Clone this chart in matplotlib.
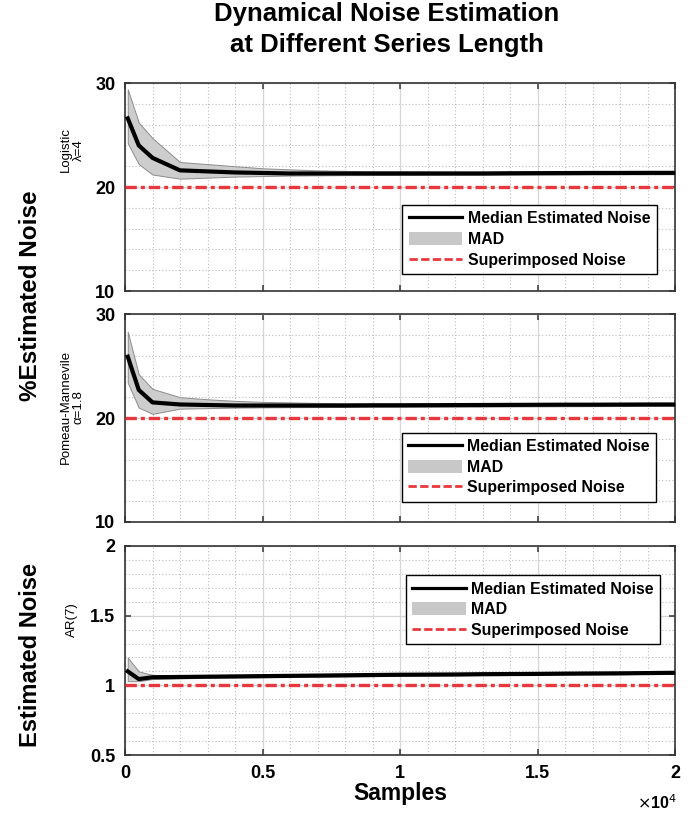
"""
Dynamical noise estimation vs. series length, three stacked panels
(Logistic, Pomeau-Manneville, AR(7)) in a MATLAB-like style.
"""

import matplotlib.pyplot as plt
from matplotlib.lines import Line2D
from matplotlib.patches import Patch
from matplotlib.ticker import MultipleLocator, FixedLocator

plt.rcParams["font.family"] = ["Liberation Sans", "DejaVu Sans"]

# series lengths (samples)
samples = [100, 500, 1000, 2000, 3000, 4000, 5000, 6000, 7000, 8000, 9000,
           10000, 11000, 12000, 13000, 14000, 15000, 16000, 17000, 18000,
           19000, 20000]

# Logistic map, lambda = 4 (% estimated noise)
logistic_median = [26.6, 24.0, 22.8, 21.6, 21.5, 21.4, 21.35, 21.3, 21.3, 21.3,
                   21.3, 21.3, 21.3, 21.3, 21.3, 21.32, 21.33, 21.34, 21.35,
                   21.35, 21.36, 21.36]
logistic_upper = [29.4, 26.2, 24.7, 22.4, 22.2, 22.0, 21.8, 21.7, 21.6, 21.55,
                  21.5, 21.5, 21.48, 21.47, 21.46, 21.47, 21.48, 21.49, 21.5,
                  21.5, 21.5, 21.5]
logistic_lower = [24.2, 22.2, 21.2, 20.8, 20.9, 21.0, 21.05, 21.1, 21.12, 21.14,
                  21.15, 21.16, 21.17, 21.18, 21.18, 21.19, 21.2, 21.2, 21.21,
                  21.22, 21.22, 21.23]
logistic_noise = 20

# Pomeau-Manneville map, alpha = 1.8 (% estimated noise)
pomeau_median = [25.9, 22.7, 21.5, 21.3, 21.25, 21.2, 21.2, 21.2, 21.2, 21.2,
                 21.22, 21.22, 21.23, 21.24, 21.25, 21.26, 21.27, 21.28, 21.28,
                 21.29, 21.3, 21.3]
pomeau_upper = [28.3, 24.2, 22.8, 22.0, 21.8, 21.65, 21.55, 21.5, 21.45, 21.42,
                21.4, 21.4, 21.4, 21.4, 21.4, 21.4, 21.4, 21.41, 21.41, 21.42,
                21.42, 21.42]
pomeau_lower = [23.4, 21.0, 20.4, 20.9, 20.95, 21.0, 21.02, 21.04, 21.05, 21.06,
                21.07, 21.08, 21.09, 21.1, 21.1, 21.11, 21.12, 21.13, 21.14,
                21.15, 21.16, 21.17]
pomeau_noise = 20

# AR(7) process (estimated noise)
ar_median = [1.10, 1.045, 1.058, 1.06, 1.062, 1.064, 1.066, 1.068, 1.07, 1.072,
             1.074, 1.076, 1.077, 1.078, 1.08, 1.081, 1.082, 1.084, 1.085,
             1.086, 1.088, 1.09]
ar_upper = [1.20, 1.10, 1.075, 1.07, 1.07, 1.072, 1.074, 1.076, 1.078, 1.08,
            1.082, 1.083, 1.084, 1.085, 1.087, 1.088, 1.089, 1.09, 1.092,
            1.093, 1.094, 1.095]
ar_lower = [1.03, 1.03, 1.045, 1.05, 1.054, 1.056, 1.058, 1.06, 1.062, 1.064,
            1.066, 1.068, 1.07, 1.071, 1.073, 1.074, 1.076, 1.077, 1.079, 1.08,
            1.082, 1.084]
ar_noise = 1

x_ticks = [0, 5000, 10000, 15000, 20000]
x_tick_labels = ["0", "0.5", "1", "1.5", "2"]
legend_labels = ["Median Estimated Noise", "MAD", "Superimposed Noise"]

RED = "#e8383d"
W, H = 693, 813


def px_box(left, top, right, bottom):
    """Pixel box -> figure fraction [l, b, w, h]."""
    return [left / W, 1 - bottom / H, (right - left) / W, (bottom - top) / H]


def draw_panel(ax, median, upper, lower, noise, ylim, yticks, yminor,
               yticklabels, legend_loc, legend_anchor):
    # MAD band
    ax.fill_between(samples, lower, upper, facecolor="#cdcdcd",
                    edgecolor="#8c8c8c", linewidth=0.7, zorder=2)
    # median line
    ax.plot(samples, median, color="black", linewidth=3.0, zorder=3)
    # superimposed noise level
    ax.axhline(noise, color=RED, linewidth=2.4,
               dashes=(3.4, 1.2, 1.2, 1.2), zorder=4)

    ax.set_xlim(0, 20000)
    ax.set_ylim(*ylim)
    ax.set_xticks(x_ticks)
    ax.xaxis.set_minor_locator(MultipleLocator(1000))
    ax.set_yticks(yticks)
    ax.set_yticklabels(yticklabels)
    ax.yaxis.set_minor_locator(FixedLocator(yminor))

    # MATLAB-ish grid: solid light major, dotted minor
    ax.set_axisbelow(True)
    ax.grid(True, which="major", color="#d6d6d6", linewidth=0.9)
    ax.grid(True, which="minor", color="#bdbdbd", linewidth=0.8,
            linestyle=(0, (1, 2)))

    ax.tick_params(which="major", direction="in", top=True, right=True,
                   length=4, width=1.1, color="#333333", labelsize=13,
                   pad=7)
    ax.tick_params(which="minor", length=0)
    for lab in ax.get_yticklabels() + ax.get_xticklabels():
        lab.set_fontweight("bold")
    for sp in ax.spines.values():
        sp.set_linewidth(1.2)
        sp.set_color("#333333")

    handles = [
        Line2D([], [], color="black", linewidth=2.3),
        Patch(facecolor="#c8c8c8", edgecolor="none"),
        Line2D([], [], color=RED, linewidth=2.0, dashes=(3.0, 1.2)),
    ]
    leg = ax.legend(handles, legend_labels,
                    loc=legend_loc, bbox_to_anchor=legend_anchor,
                    prop={"weight": "bold", "size": 11.4}, frameon=True,
                    fancybox=False, edgecolor="black", framealpha=1,
                    handlelength=3.4, handleheight=0.9, labelspacing=0.36,
                    borderpad=0.4, handletextpad=0.35, borderaxespad=0)
    leg.get_frame().set_linewidth(1.0)
    return ax


fig = plt.figure(figsize=(W / 100, H / 100), dpi=100)

ax1 = fig.add_axes(px_box(125, 83, 675, 291))
draw_panel(ax1, logistic_median, logistic_upper, logistic_lower,
           logistic_noise, (10, 30), [10, 20, 30], range(10, 31, 2),
           ["10", "20", "30"], "lower right", (0.967, 0.082))
ax1.set_xticklabels([])

ax2 = fig.add_axes(px_box(125, 314, 675, 522))
draw_panel(ax2, pomeau_median, pomeau_upper, pomeau_lower,
           pomeau_noise, (10, 30), [10, 20, 30], range(10, 31, 2),
           ["10", "20", "30"], "lower right", (0.966, 0.097))
ax2.set_xticklabels([])

ax3 = fig.add_axes(px_box(125, 546, 675, 755))
draw_panel(ax3, ar_median, ar_upper, ar_lower, ar_noise, (0.5, 2),
           [0.5, 1, 1.5, 2], [0.5 + 0.1 * i for i in range(16)],
           ["0.5", "1", "1.5", "2"], "upper right", (0.973, 0.86))
ax3.set_xticklabels(x_tick_labels, fontweight="bold")
ax3.set_xlabel("Samples", fontsize=16.5, fontweight="bold", labelpad=0)
fig.text(677 / W, 1 - 803 / H, r"$\times$10$^4$", ha="right", va="center",
         fontsize=11.5, fontweight="bold")

# title
fig.text(387 / W, 1 - 14 / H, "Dynamical Noise Estimation", ha="center",
         va="center", fontsize=18.5, fontweight="bold")
fig.text(387 / W, 1 - 45 / H, "at Different Series Length", ha="center",
         va="center", fontsize=18.5, fontweight="bold")

# group y labels
fig.text(31 / W, 1 - 296 / H, "%Estimated Noise", rotation=90, ha="center",
         va="center", fontsize=17.5, fontweight="bold")
fig.text(31 / W, 1 - 655 / H, "Estimated Noise", rotation=90, ha="center",
         va="center", fontsize=17, fontweight="bold")

# per-panel system labels
fig.text(72 / W, 1 - 150 / H, "Logistic\nλ=4", rotation=90, ha="center",
         va="center", fontsize=9.5, linespacing=1.1)
fig.text(72 / W, 1 - 407 / H, "Pomeau-Mannevile\nα=1.8", rotation=90,
         ha="center", va="center", fontsize=9.5, linespacing=1.1)
fig.text(72 / W, 1 - 620 / H, "AR(7)", rotation=90, ha="center", va="center",
         fontsize=9.5)

fig.savefig("out.png", dpi=100)
